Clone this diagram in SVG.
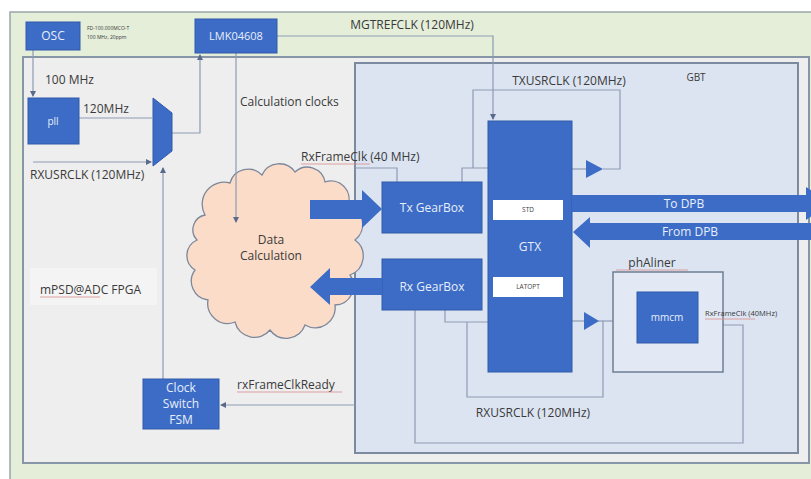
<svg xmlns="http://www.w3.org/2000/svg" width="811" height="479" viewBox="0 0 811 479">
  <defs>
    <style>
      .blk { fill: #3c6cc6; stroke: #2f5aa8; stroke-width: 1; }
      .wire { fill: none; stroke: #8e9bb3; stroke-width: 1.2; }
      .lbl { font-family: "Open Sans", "Liberation Sans", sans-serif; font-size: 12px; fill: #3a3a3a; }
      .wtxt { font-family: "Open Sans", "Liberation Sans", sans-serif; font-size: 12px; fill: #e8eef9; text-anchor: middle; }
      .small { font-family: "Open Sans", "Liberation Sans", sans-serif; font-size: 6.5px; fill: #3f3f3f; text-anchor: middle; }
      .squig { fill: none; stroke: #d98a8a; stroke-width: 0.8; }
      .bigarrow { fill: #3c6cc6; }
      .buf { fill: #3c6cc6; }
    </style>
    <marker id="ah" viewBox="0 0 6 6" refX="5" refY="3" markerWidth="5" markerHeight="5" orient="auto">
      <path d="M0 0 L6 3 L0 6 Z" fill="#5a6a8a"/>
    </marker>
  </defs>

  <!-- page and board frames -->
  <rect x="0" y="0" width="811" height="479" fill="#ffffff"/>
  <rect x="10" y="12" width="805" height="470" fill="#e4eed9" stroke="#9aa7a8" stroke-width="1.5"/>
  <rect x="23" y="57" width="786" height="406" fill="#eeeeef" stroke="#8796a6" stroke-width="2"/>
  <rect id="gbt-frame" x="355" y="63" width="443" height="390" fill="#dce4f2" stroke="#7c8aa0" stroke-width="2"/>

  <g id="cloud">
    <path d="M205 215 A22 22 0 0 1 230 183 A19 19 0 0 1 262 175 A19 19 0 0 1 295 172 A18 18 0 0 1 325 182 A18 18 0 0 1 348 205 A20 20 0 0 1 355 240 A20 20 0 0 1 350 275 A19 19 0 0 1 335 305 A20 20 0 0 1 305 325 A20 20 0 0 1 270 330 A20 20 0 0 1 235 322 A20 20 0 0 1 208 300 A19 19 0 0 1 195 270 A17 17 0 0 1 197 240 A15 15 0 0 1 205 215 Z" fill="#fbdcc8" stroke="#7d879a" stroke-width="1.3"/>
    <text class="lbl" x="271" y="244" text-anchor="middle">Data</text>
    <text class="lbl" x="271" y="260" text-anchor="middle">Calculation</text>
  </g>

  <!-- connectors -->
  <g id="connectors">
    <path class="wire" d="M33 50 V96" marker-end="url(#ah)"/>
    <path class="wire" d="M79 118 H152"/>
    <path class="wire" d="M33 162 H151" marker-end="url(#ah)"/>
    <path class="wire" d="M172 133 H200 V55" marker-end="url(#ah)"/>
    <path class="wire" d="M236 53 V222" marker-end="url(#ah)"/>
    <path class="wire" d="M277 36 H493 V119" marker-end="url(#ah)"/>
    <path class="wire" d="M163 379 V168" marker-end="url(#ah)"/>
    <path class="wire" d="M355 405 H221" marker-end="url(#ah)"/>
    <!-- TXUSRCLK loop -->
    <path class="wire" d="M572 169 H586"/>
    <path class="wire" d="M603 169 H620 V90 H473 V168"/>
    <path class="wire" d="M462 182 V168 H488"/>
    <!-- RxFrameClk to Tx GearBox -->
    <path class="wire" d="M355 168 H397 V182"/>
    <!-- RXUSRCLK loop -->
    <path class="wire" d="M572 321 H584"/>
    <path class="wire" d="M598 321 H613"/>
    <path class="wire" d="M603 321 V397 H467 V322"/>
    <path class="wire" d="M445 310 V322 H488"/>
    <!-- RxFrameClk from phAliner to Rx GearBox -->
    <path class="wire" d="M723 325 H743 V443 H415 V310"/>
  </g>

  <!-- clock buffers -->
  <path class="buf" d="M586 160 L603 169 L586 178 Z"/>
  <path class="buf" d="M584 312 L599 321 L584 330 Z"/>

  <g id="osc">
    <rect class="blk" x="26" y="22" width="54" height="28"/>
    <text class="wtxt" x="53" y="40">OSC</text>
    <text class="lbl" x="87" y="30" style="font-size:5px">FD-100.000MCO-T</text>
    <text class="lbl" x="87" y="39" style="font-size:5px">100 MHz, 20ppm</text>
  </g>

  <g id="lmk">
    <rect class="blk" x="195" y="19" width="82" height="34"/>
    <text class="wtxt" x="236" y="40" style="font-size:11px">LMK04608</text>
  </g>

  <g id="pll">
    <rect class="blk" x="28" y="98" width="51" height="46"/>
    <text class="wtxt" x="53" y="125" style="font-size:10px">pll</text>
  </g>

  <g id="mux">
    <path class="blk" d="M153 98 L172 113 L172 151 L153 166 Z"/>
  </g>

  <g id="fsm">
    <rect class="blk" x="143" y="379" width="76" height="50"/>
    <text class="wtxt" x="181" y="392">Clock</text>
    <text class="wtxt" x="181" y="408">Switch</text>
    <text class="wtxt" x="181" y="424">FSM</text>
  </g>

  <g id="tx-gearbox">
    <rect class="blk" x="382" y="182" width="100" height="51"/>
    <text class="wtxt" x="432" y="212">Tx GearBox</text>
  </g>

  <g id="rx-gearbox">
    <rect class="blk" x="382" y="259" width="100" height="51"/>
    <text class="wtxt" x="432" y="291">Rx GearBox</text>
  </g>

  <g id="gtx">
    <rect class="blk" x="488" y="121" width="84" height="251"/>
    <rect x="493" y="200" width="70" height="20" fill="#ffffff"/>
    <text class="small" x="528" y="212">STD</text>
    <text class="wtxt" x="530" y="251">GTX</text>
    <rect x="493" y="277" width="70" height="20" fill="#ffffff"/>
    <text class="small" x="528" y="289">LATOPT</text>
  </g>

  <g id="phaliner">
    <rect x="613" y="272" width="110" height="100" fill="#e2e9f5" stroke="#6e7d94" stroke-width="1.5"/>
    <rect class="blk" x="637" y="292" width="61" height="51"/>
    <text class="wtxt" x="667" y="321" style="font-size:10px">mmcm</text>
    <text class="lbl" x="652" y="267" text-anchor="middle">phAliner</text>
    <path class="squig" d="M616 270 H688"/>
  </g>

  <!-- data path block arrows -->
  <path class="bigarrow" d="M310 200 H362 V190 L382 209 L362 228 V219 H310 Z"/>
  <path class="bigarrow" d="M382 278 H330 V268 L310 287 L330 305 V295 H382 Z"/>
  <path class="bigarrow" d="M572 195 H806 V187 L830 203 L806 220 V212 H572 Z"/>
  <path class="bigarrow" d="M811 223 H590 V217 L573 232 L590 248 V240 H811 Z"/>
  <text class="wtxt" x="684" y="208">To DPB</text>
  <text class="wtxt" x="690" y="236">From DPB</text>

  <!-- labels -->
  <text class="lbl" x="412" y="29" text-anchor="middle">MGTREFCLK (120MHz)</text>
  <text class="lbl" x="240" y="106">Calculation clocks</text>
  <text class="lbl" x="45" y="84">100 MHz</text>
  <text class="lbl" x="83" y="113">120MHz</text>
  <text class="lbl" x="30" y="179">RXUSRCLK (120MHz)</text>
  <text class="lbl" x="569" y="85" text-anchor="middle">TXUSRCLK (120MHz)</text>
  <text class="lbl" x="696" y="81" text-anchor="middle" style="font-size:10px">GBT</text>
  <text class="lbl" x="301" y="161">RxFrameClk (40 MHz)</text>
  <path class="squig" d="M301 164 H370"/>
  <text class="lbl" x="705" y="316" style="font-size:7.5px">RxFrameClk (40MHz)</text>
  <path class="squig" d="M705 319 H755"/>
  <text class="lbl" x="533" y="417" text-anchor="middle">RXUSRCLK (120MHz)</text>
  <text class="lbl" x="237" y="389">rxFrameClkReady</text>
  <path class="squig" d="M237 392 H342"/>
  <rect x="30" y="268" width="127" height="37" fill="#ffffff" opacity="0.35"/>
  <text class="lbl" x="40" y="294">mPSD@ADC FPGA</text>
  <path class="squig" d="M40 297 H100"/>
</svg>
